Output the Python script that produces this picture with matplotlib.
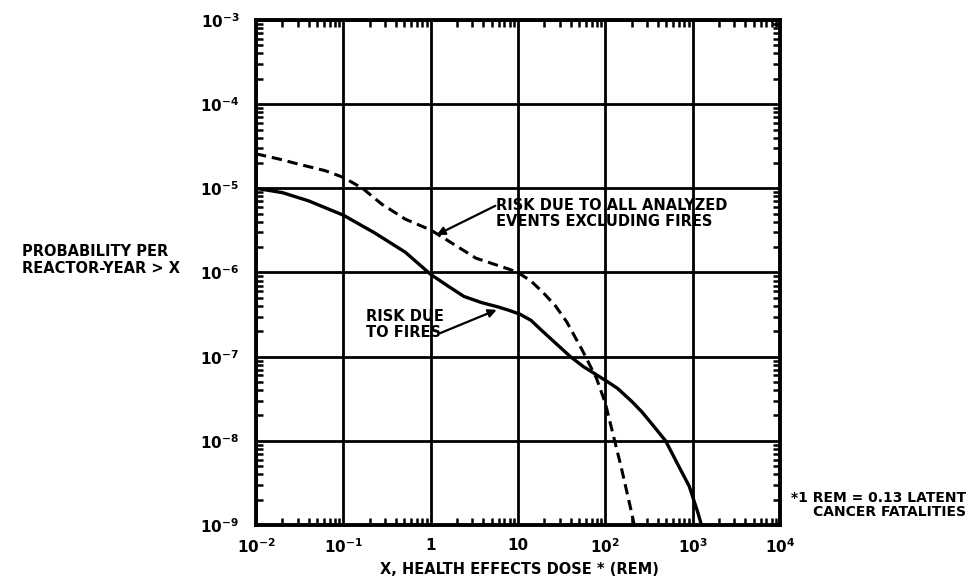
import math
import matplotlib
matplotlib.use("Agg")
import matplotlib.pyplot as plt
from matplotlib.ticker import FixedLocator, LogLocator, FuncFormatter, NullFormatter

plt.rcParams['font.family'] = ['DejaVu Sans']
plt.rcParams['font.weight'] = 'bold'
plt.rcParams['mathtext.default'] = 'bf'

# risk due to fires (solid)
fire_dose = [0.01, 0.02, 0.04, 0.1, 0.229, 0.513, 1.0, 1.58, 2.4, 3.8, 5.9, 7.9,
             10.5, 14.1, 18.2, 26.9, 39.8, 56.2, 81.0, 107.0, 138.0, 200.0, 263.0,
             339.0, 490.0, 692.0, 912.0, 1148.0, 1259.0]
fire_prob = [1.0e-5, 8.9e-6, 7.1e-6, 4.8e-6, 2.95e-6, 1.74e-6, 9.5e-7, 6.9e-7,
             5.2e-7, 4.4e-7, 3.9e-7, 3.55e-7, 3.2e-7, 2.7e-7, 2.1e-7, 1.45e-7,
             1.0e-7, 7.6e-8, 6.0e-8, 5.0e-8, 4.2e-8, 2.95e-8, 2.2e-8, 1.6e-8,
             1.0e-8, 5.0e-9, 2.9e-9, 1.4e-9, 1.0e-9]

# all analyzed events excluding fires (dashed)
other_dose = [0.01, 0.018, 0.030, 0.062, 0.1, 0.166, 0.275, 0.513, 1.0, 1.62,
              3.3, 7.8, 10.0, 14.1, 19.5, 26.9, 36.3, 55.0, 79.4, 100.0, 117.0,
              151.0, 200.0, 214.0]
other_prob = [2.57e-5, 2.24e-5, 1.95e-5, 1.62e-5, 1.35e-5, 1.0e-5, 6.5e-6,
              4.3e-6, 3.2e-6, 2.35e-6, 1.48e-6, 1.1e-6, 1.0e-6, 7.9e-7, 5.75e-7,
              4.0e-7, 2.57e-7, 1.17e-7, 5.5e-8, 2.8e-8, 1.45e-8, 5.0e-9, 1.4e-9,
              1.0e-9]

x_ticks = [1e-2, 1e-1, 1, 10, 1e2, 1e3, 1e4]
x_ticklabels = [r'$10^{-2}$', r'$10^{-1}$', '1', '10', r'$10^{2}$', r'$10^{3}$', r'$10^{4}$']
y_ticks = [1e-9, 1e-8, 1e-7, 1e-6, 1e-5, 1e-4, 1e-3]

fig = plt.figure(figsize=(9.71, 5.81), dpi=100)
ax = fig.add_axes([256 / 971, 1 - 525 / 581, 524 / 971, 505 / 581])

ax.set_xscale('log')
ax.set_yscale('log')
ax.set_xlim(1e-2, 1e4)
ax.set_ylim(1e-9, 1e-3)

ax.grid(True, which='major', color='black', linewidth=2.0)
ax.set_axisbelow(True)

ax.plot(fire_dose, fire_prob, color='black', linewidth=2.4)
ax.plot(other_dose, other_prob, color='black', linewidth=2.2, linestyle=(0, (3.4, 1.9)))

ax.xaxis.set_major_locator(FixedLocator(x_ticks))
ax.yaxis.set_major_locator(FixedLocator(y_ticks))
ax.set_xticklabels(x_ticklabels)
ax.yaxis.set_major_formatter(FuncFormatter(lambda v, p: r'$10^{%d}$' % round(math.log10(v))))
ax.xaxis.set_minor_locator(LogLocator(base=10, subs=range(2, 10), numticks=20))
ax.yaxis.set_minor_locator(LogLocator(base=10, subs=range(2, 10), numticks=20))
ax.xaxis.set_minor_formatter(NullFormatter())
ax.yaxis.set_minor_formatter(NullFormatter())

ax.tick_params(which='major', length=0, labelsize=11)
ax.tick_params(axis='x', which='major', pad=9)
ax.tick_params(axis='y', which='major', pad=12)
ax.tick_params(which='minor', direction='in', length=5, width=1.8,
               top=True, right=True)
for s in ax.spines.values():
    s.set_linewidth(2.8)

arrow = dict(arrowstyle='-|>', color='black', lw=1.6, mutation_scale=12,
             shrinkA=0, shrinkB=0)
ax.text(5.6, 5.0e-6, 'RISK DUE TO ALL ANALYZED\nEVENTS EXCLUDING FIRES',
        ha='left', va='center', fontsize=10.5, fontweight='bold', linespacing=1.05)
ax.annotate('', xy=(1.17, 2.8e-6), xytext=(5.5, 6.2e-6), arrowprops=arrow)
ax.text(0.18, 2.4e-7, 'RISK DUE\nTO FIRES',
        ha='left', va='center', fontsize=10.5, fontweight='bold', linespacing=1.05)
ax.annotate('', xy=(5.7, 3.6e-7), xytext=(1.28, 1.9e-7), arrowprops=arrow)

fig.text(22 / 971, 1 - 260 / 581, 'PROBABILITY PER\nREACTOR-YEAR > X',
         ha='left', va='center', fontsize=10.5, fontweight='bold', linespacing=1.1)
fig.text(519 / 971, 1 - 569 / 581, 'X, HEALTH EFFECTS DOSE * (REM)',
         ha='center', va='center', fontsize=10.5, fontweight='bold')
fig.text(966 / 971, 1 - 505 / 581, '*1 REM = 0.13 LATENT\nCANCER FATALITIES',
         ha='right', va='center', fontsize=10, fontweight='bold',
         multialignment='right', linespacing=1.05)

fig.savefig('out.png', dpi=100, facecolor='white')
